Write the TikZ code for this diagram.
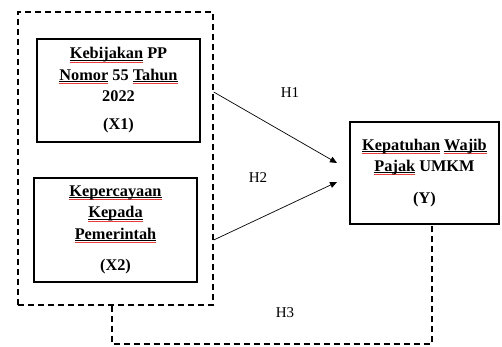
\documentclass[tikz,border=0pt]{standalone}
\usepackage{fontspec}
\setmainfont{Liberation Serif}
\usetikzlibrary{arrows.meta}
\definecolor{squig}{RGB}{235,60,60}
\newcommand\sq[1]{\setbox0\hbox{#1}\rlap{\rule[-1.6pt]{\wd0}{0.8pt}}\rlap{\textcolor{squig}{\rule[-3.6pt]{\wd0}{0.9pt}}}\box0\relax}
\tikzset{
  varbox/.style={draw, line width=1.4pt, inner sep=0pt, align=center,
    font=\fontsize{16.3}{21.3}\selectfont\bfseries},
  grpbox/.style={draw, line width=1.4pt, dash pattern=on 6pt off 4pt, inner sep=0pt},
  hyp/.style={line width=0.7pt, -{Triangle[length=7pt,width=6pt]}},
  hlink/.style={line width=1.4pt, dash pattern=on 6pt off 4pt},
  hlabel/.style={font=\fontsize{15}{18}\selectfont, inner sep=0pt}
}
\begin{document}
\begin{tikzpicture}[x=1pt,y=-1pt]
\useasboundingbox (0,0) rectangle (502,346);
\node[grpbox, minimum width=195pt, minimum height=293pt] (grp) at (115.5,158.5) {};
\node[varbox, minimum width=163pt, minimum height=103pt] (x1) at (118.5,90.5)
  {\sq{Kebijakan} PP\\\sq{Nomor} 55 \sq{Tahun}\\2022\\[7pt](X1)};
\node[varbox, minimum width=163pt, minimum height=104pt] (x2) at (115.5,230)
  {\sq{Kepercayaan}\\\sq{Kepada}\\\sq{Pemerintah}\\[10pt](X2)};
\node[varbox, minimum width=149pt, minimum height=102pt] (y) at (424.5,173)
  {\sq{Kepatuhan} \sq{Wajib}\\\sq{Pajak} UMKM\\[11pt](Y)};
\coordinate (h1s) at (grp.east |- 0,92);
\coordinate (h1e) at (337,163);
\coordinate (h2s) at (grp.east |- 0,240);
\coordinate (h2e) at (337,182);
\draw[hyp] (h1s) -- (h1e);
\draw[hyp] (h2s) -- (h2e);
\node[hlabel] (l1) at (290,93) {H1};
\node[hlabel] (l2) at (258,178) {H2};
\coordinate (a) at (grp.south -| 112,0);
\coordinate (b) at (112,344);
\coordinate (c) at (432,344);
\coordinate (d) at (y.south -| 432,0);
\draw[hlink] (a) -- (b) -- (c) -- (d);
\node[hlabel] (l3) at (285,313) {H3};
\end{tikzpicture}
\end{document}
